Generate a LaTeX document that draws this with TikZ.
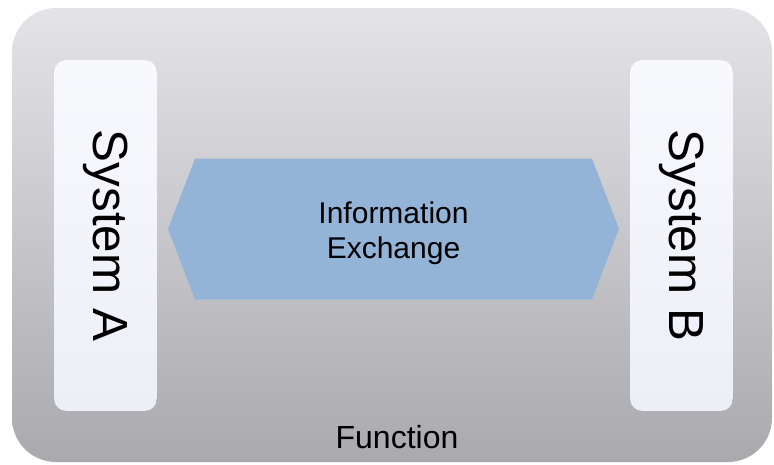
\documentclass[tikz,border=0pt]{standalone}
\usepackage{fontspec}
\setmainfont{Liberation Sans}
\usetikzlibrary{shapes.arrows}

\definecolor{frametop}{RGB}{228,228,232}
\definecolor{framebot}{RGB}{170,170,174}
\definecolor{systop}{RGB}{248,249,253}
\definecolor{sysbot}{RGB}{236,239,246}
\definecolor{exblue}{RGB}{147,179,215}

\begin{document}
\begin{tikzpicture}[x=0.75pt,y=-0.75pt,
   funcbox/.style={rectangle, rounded corners=33pt, top color=frametop,
      bottom color=framebot, minimum width=570pt, minimum height=340.5pt},
   sysbox/.style={rectangle, rounded corners=9pt, top color=systop,
      bottom color=sysbot, rotate=-90, minimum width=263pt, minimum height=77pt,
      font=\fontsize{37}{40}\selectfont},
   exchange/.style={double arrow, fill=exblue, double arrow head extend=0pt,
      double arrow tip angle=138, minimum width=105.75pt, minimum height=338.25pt,
      inner sep=0pt},
   infotext/.style={align=center, font=\fontsize{22.5}{26.5}\selectfont},
   caption/.style={font=\fontsize{24}{28}\selectfont}]
   \useasboundingbox (0,0) rectangle (774,464);
   \node[funcbox] (func) at (392,235) {};
   \node[sysbox] (sysA) at (105.5,235.5) {System A};
   \node[sysbox] (sysB) at (681.5,235.5) {System B};
   \node[exchange] (info) at (393.5,229) {};
   \node[infotext] (infolabel) at (393.5,233.5) {Information\\Exchange};
   \node[caption] (functxt) at (397,437) {Function};
\end{tikzpicture}
\end{document}
